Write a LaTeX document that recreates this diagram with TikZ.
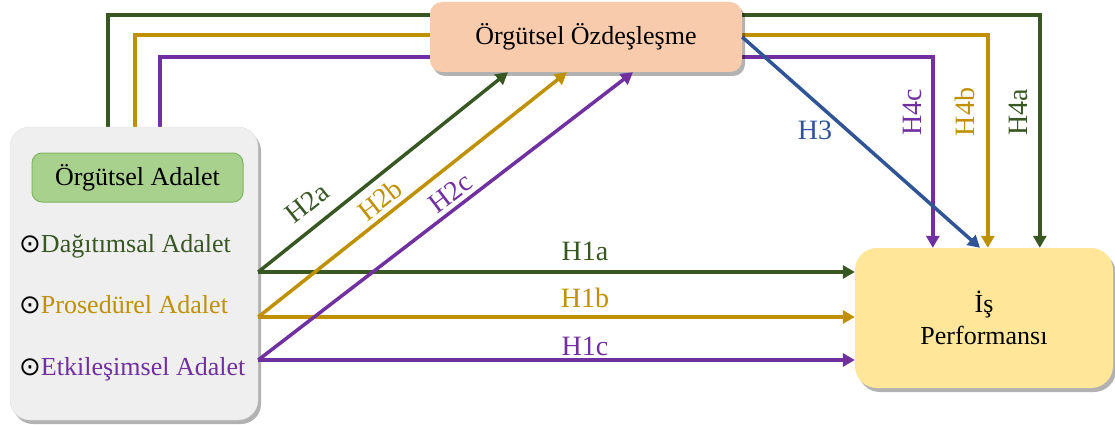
\documentclass[tikz,border=0pt]{standalone}
\usepackage{fontspec}
\setmainfont{Liberation Serif}
\newfontfamily\symfont{DejaVu Sans}
\usetikzlibrary{arrows.meta,shadows}
\pgfdeclarelayer{bg}
\pgfsetlayers{bg,main}
\definecolor{cG}{HTML}{385723}
\definecolor{cY}{HTML}{BF9000}
\definecolor{cP}{HTML}{7030A0}
\definecolor{cB}{HTML}{2F5597}
\definecolor{grayfill}{HTML}{EFEFEF}
\definecolor{greenfill}{HTML}{A9D18E}
\definecolor{greenline}{HTML}{7DB65E}
\definecolor{peach}{HTML}{F8CBAD}
\definecolor{yellowfill}{HTML}{FFE699}
\tikzset{
  boxtext/.style={font=\fontsize{26}{32}\selectfont},
  labtext/.style={font=\fontsize{28}{32}\selectfont, inner sep=0pt},
  shad/.style={drop shadow={shadow xshift=3pt,shadow yshift=-4pt,opacity=0.3,fill=black}},
  conn/.style={line width=3.5pt, -{Triangle[length=12pt,width=13pt]}},
  loopline/.style={line width=3.5pt, -{Triangle[length=12pt,width=13pt]}},
}
\begin{document}
\begin{tikzpicture}[x=1pt,y=-1pt]
\useasboundingbox (0,0) rectangle (1115,425);
% nodes
\node[shad, fill=grayfill, draw=black!12, rounded corners=20pt, minimum width=248pt, minimum height=293pt, inner sep=0pt] (lb) at (134,273.5) {};
\node[boxtext, fill=greenfill, draw=greenline, line width=1pt, rounded corners=10pt, minimum width=211pt, minimum height=49pt, inner sep=0pt] (oa) at (137.5,177.5) {Örgütsel Adalet};
\node[boxtext, anchor=base west, inner sep=0pt] (i1) at (19,252) {{\symfont ⊙}\textcolor{cG}{Dağıtımsal Adalet}};
\node[boxtext, anchor=base west, inner sep=0pt] (i2) at (19,313) {{\symfont ⊙}\textcolor{cY}{Prosedürel Adalet}};
\node[boxtext, anchor=base west, inner sep=0pt] (i3) at (19,375) {{\symfont ⊙}\textcolor{cP}{Etkileşimsel Adalet}};
\node[boxtext, shad, fill=peach, rounded corners=12pt, minimum width=312pt, minimum height=70pt, inner sep=0pt] (ob) at (586,37) {Örgütsel Özdeşleşme};
\node[boxtext, shad, fill=yellowfill, rounded corners=22pt, minimum width=258pt, minimum height=140pt, inner sep=0pt, align=center] (rb) at (984,318) {İş\\Performansı};
% coordinates on the left box
\coordinate (sa) at ([yshift=1.5pt]lb.east);
\coordinate (sb) at ([yshift=-43.5pt]lb.east);
\coordinate (sc) at ([yshift=-86.5pt]lb.east);
% loops behind the top box
\begin{pgfonlayer}{bg}
\draw[loopline, cG] ([xshift=98pt]lb.north west) |- ([yshift=-13pt]ob.north) -| ([xshift=185pt]rb.north west);
\draw[loopline, cY] ([xshift=125pt]lb.north west) |- ([yshift=-33pt]ob.north) -| ([xshift=133pt]rb.north west);
\draw[loopline, cP] ([xshift=150pt]lb.north west) |- ([yshift=-55pt]ob.north) -| ([xshift=78pt]rb.north west);
\end{pgfonlayer}
% H1
\draw[conn, cG] (sa) -- (sa -| rb.west);
\draw[conn, cY] (sb) -- (sb -| rb.west);
\draw[conn, cP] (sc) -- (sc -| rb.west);
% H2
\draw[conn, cG] (sa) -- ([xshift=-78pt]ob.south);
\draw[conn, cY] (sb) -- ([xshift=-19pt]ob.south);
\draw[conn, cP] (sc) -- ([xshift=47pt]ob.south);
% H3
\draw[conn, cB] (ob.east) -- ([xshift=-4pt]rb.north);
% labels
\node[labtext, text=cG, anchor=base] (l1a) at (585,260) {H1a};
\node[labtext, text=cY, anchor=base] (l1b) at (585,307) {H1b};
\node[labtext, text=cP, anchor=base] (l1c) at (585,355) {H1c};
\node[labtext, text=cG, rotate=38.6] (l2a) at (307,203) {H2a};
\node[labtext, text=cY, rotate=38.3] (l2b) at (380,200) {H2b};
\node[labtext, text=cP, rotate=37.4] (l2c) at (450,193) {H2c};
\node[labtext, text=cB] (l3) at (815,130) {H3};
\node[labtext, text=cP, rotate=90] (l4c) at (912,112) {H4c};
\node[labtext, text=cY, rotate=90] (l4b) at (965,112) {H4b};
\node[labtext, text=cG, rotate=90] (l4a) at (1018,112) {H4a};
\end{tikzpicture}
\end{document}
